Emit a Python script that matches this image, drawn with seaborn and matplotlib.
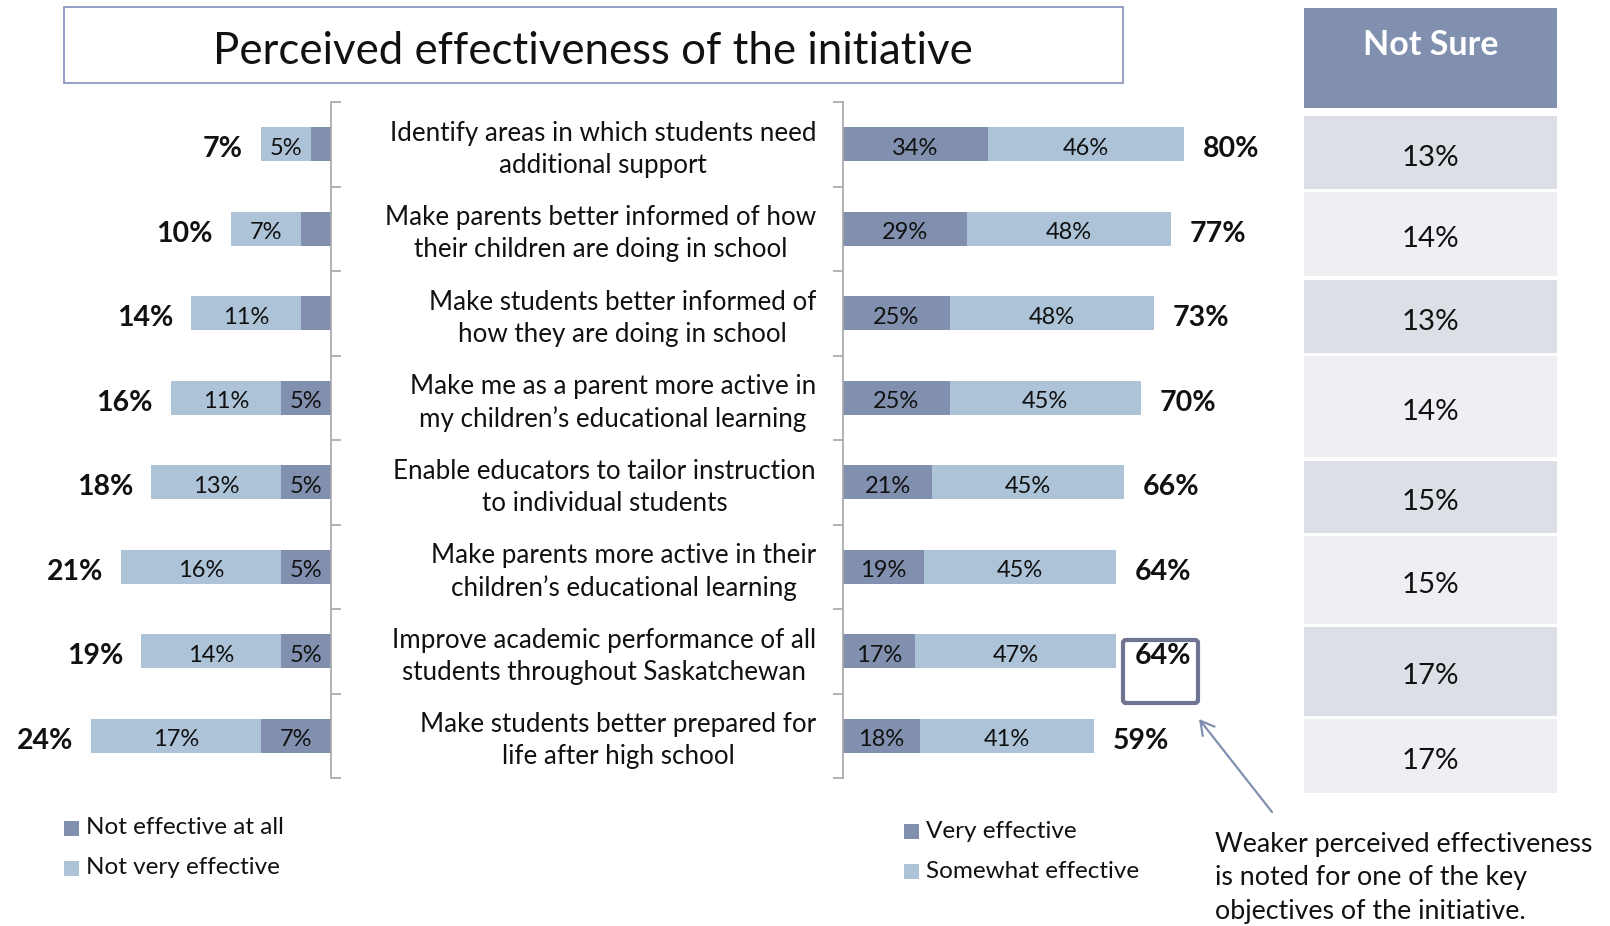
import numpy as np
import pandas as pd
import matplotlib
matplotlib.use("Agg")
import matplotlib.pyplot as plt
import seaborn as sns
from matplotlib.patches import Rectangle, FancyBboxPatch

# ---------------- data ----------------
categories = [
    "Identify areas in which students need\nadditional support",
    "Make parents better informed of how\ntheir children are doing in school",
    "Make students better informed of\nhow they are doing in school",
    "Make me as a parent more active in\nmy children\u2019s educational learning",
    "Enable educators to tailor instruction\nto individual students",
    "Make parents more active in their\nchildren\u2019s educational learning",
    "Improve academic performance of all\nstudents throughout Saskatchewan",
    "Make students better prepared for\nlife after high school",
]
not_at_all = [2, 3, 3, 5, 5, 5, 5, 7]
not_very = [5, 7, 11, 11, 13, 16, 14, 17]
very = [34, 29, 25, 25, 21, 19, 17, 18]
somewhat = [46, 48, 48, 45, 45, 45, 47, 41]
not_sure = [13, 14, 13, 14, 15, 15, 17, 17]

title = "Perceived effectiveness of the initiative"
legend_left = ["Not effective at all", "Not very effective"]
legend_right = ["Very effective", "Somewhat effective"]
note = "Weaker perceived effectiveness\nis noted for one of the key\nobjectives of the initiative."
highlight_row = 6

# ---------------- style ----------------
DARK = "#8290B0"
LIGHT = "#ADC4D8"
ROW_DARK = "#DCDFE6"
ROW_LIGHT = "#EEEFF3"
AXIS_GRAY = "#A6A6A6"
TXT = "#111111"

sns.set_theme(style="white")
plt.rcParams["font.family"] = ["Lato", "DejaVu Sans"]

W, H = 1610, 926
fig = plt.figure(figsize=(W / 100, H / 100), dpi=100)


def fbox(x0, y0, x1, y1):
    return [x0 / W, 1 - y1 / H, (x1 - x0) / W, (y1 - y0) / H]


AX_TOP, AX_BOT = 102, 778
axL = fig.add_axes(fbox(0, AX_TOP, 331, AX_BOT))
axR = fig.add_axes(fbox(843, AX_TOP, 1270, AX_BOT))
ov = fig.add_axes([0, 0, 1, 1])
ov.set_xlim(0, W)
ov.set_ylim(H, 0)
ov.axis("off")

df = pd.DataFrame({
    "cat": categories,
    "not_at_all": not_at_all,
    "not_very": not_very,
    "very": very,
    "somewhat": somewhat,
})
df["neg_total"] = -(df["not_at_all"] + df["not_very"])
df["neg_dark"] = -df["not_at_all"]
df["pos_total"] = df["very"] + df["somewhat"]

# left (negative) chart
sns.barplot(data=df, x="neg_total", y="cat", order=categories, orient="h",
            color=LIGHT, width=0.4, linewidth=0, saturation=1, ax=axL)
sns.barplot(data=df, x="neg_dark", y="cat", order=categories, orient="h",
            color=DARK, width=0.4, linewidth=0, saturation=1, ax=axL)
# right (positive) chart
sns.barplot(data=df, x="pos_total", y="cat", order=categories, orient="h",
            color=LIGHT, width=0.4, linewidth=0, saturation=1, ax=axR)
sns.barplot(data=df, x="very", y="cat", order=categories, orient="h",
            color=DARK, width=0.4, linewidth=0, saturation=1, ax=axR)

LBL = 17
TOT = 20.5
DY_L = 0.045   # small downward nudge of labels (data units)
DY_T = 0.06
for i, r in df.iterrows():
    na, nv, ve, so = r["not_at_all"], r["not_very"], r["very"], r["somewhat"]
    # left
    axL.text(-(na + nv / 2), i + DY_L, f"{nv}%", ha="center", va="center",
             fontsize=LBL, color=TXT)
    if na >= 5:
        axL.text(-na / 2, i + DY_L, f"{na}%", ha="center", va="center",
                 fontsize=LBL, color=TXT)
    axL.text(-(na + nv) - 1.8, i + DY_T, f"{na + nv}%", ha="right", va="center",
             fontsize=TOT, fontweight="bold", color=TXT)
    # right
    axR.text(ve / 2, i + DY_L, f"{ve}%", ha="center", va="center", fontsize=LBL, color=TXT)
    axR.text(ve + so / 2, i + DY_L, f"{so}%", ha="center", va="center", fontsize=LBL, color=TXT)
    axR.text(ve + so + 4.4, i + DY_T, f"{ve + so}%", ha="left", va="center",
             fontsize=TOT, fontweight="bold", color=TXT)

n = len(categories)
for ax in (axL, axR):
    ax.set_ylim(n - 0.5, -0.5)
    ax.set_yticks(np.arange(-0.5, n, 1.0))
    ax.set_yticklabels([])
    ax.set_xticks([])
    ax.set_xlabel("")
    ax.set_ylabel("")
    ax.patch.set_alpha(0)
    for s in ax.spines.values():
        s.set_visible(False)
    ax.tick_params(axis="y", direction="out", length=7, width=1.2, color=AXIS_GRAY)

axL.set_xlim(-33.1, 0)
axL.yaxis.tick_right()
axL.spines["right"].set_visible(True)
axL.spines["right"].set_color(AXIS_GRAY)
axL.spines["right"].set_linewidth(1.2)

axR.set_xlim(0, 427 / 4.26)
axR.yaxis.tick_left()
axR.spines["left"].set_visible(True)
axR.spines["left"].set_color(AXIS_GRAY)
axR.spines["left"].set_linewidth(1.2)

# category labels in the middle
row_h = (AX_BOT - AX_TOP) / n
for i, c in enumerate(categories):
    yc = AX_TOP + (i + 0.5) * row_h + 5
    ov.text(816, yc, c, ha="right", va="center", multialignment="center",
            fontsize=18.7, color=TXT, linespacing=1.33)

# title box
ov.add_patch(Rectangle((64, 7), 1059, 76, facecolor="white", edgecolor="#8C96C0", lw=1.3))
ov.text(593, 52, title, ha="center", va="center", fontsize=31.5, color=TXT)

# Not Sure table
TX0, TX1 = 1304, 1557
ov.add_patch(Rectangle((TX0, 8), TX1 - TX0, 100, facecolor=DARK, edgecolor="none"))
ov.text((TX0 + TX1) / 2, 45, "Not Sure", ha="center", va="center", fontsize=24.5,
        fontweight="bold", color="white")
row_bounds = [(116, 189), (192, 276), (280, 353), (356, 457),
              (461, 533), (536, 624), (627, 716), (719, 793)]
for i, (v, (y0, y1)) in enumerate(zip(not_sure, row_bounds)):
    ov.add_patch(Rectangle((TX0, y0), TX1 - TX0, y1 - y0,
                           facecolor=ROW_DARK if i % 2 == 0 else ROW_LIGHT, edgecolor="none"))
    ov.text((TX0 + TX1) / 2, (y0 + y1) / 2 + 5, f"{v}%", ha="center", va="center",
            fontsize=21.2, color=TXT)

# legends
for (x, y0), labels in (((64, 828), legend_left), ((904, 831), legend_right)):
    for k, lab in enumerate(labels):
        y = y0 + k * 40
        ov.add_patch(Rectangle((x, y - 7.5), 15, 15, facecolor=DARK if k == 0 else LIGHT,
                               edgecolor="none"))
        ov.text(x + 22, y, lab, ha="left", va="center", fontsize=17.5, color=TXT)

# highlight box + arrow + note
ov.add_patch(FancyBboxPatch((1123, 640), 75, 63, boxstyle="round,pad=0,rounding_size=3",
                            facecolor="none", edgecolor="#6E7491", lw=3))
ov.annotate("", xy=(1199, 719), xytext=(1272, 812),
            arrowprops=dict(arrowstyle="->,head_length=0.8,head_width=0.45",
                            color=DARK, lw=1.6, shrinkA=0, shrinkB=0))
ov.text(1215, 878, note, ha="left", va="center", fontsize=19.3, color=TXT,
        linespacing=1.42)

fig.savefig("out.png", dpi=100)
